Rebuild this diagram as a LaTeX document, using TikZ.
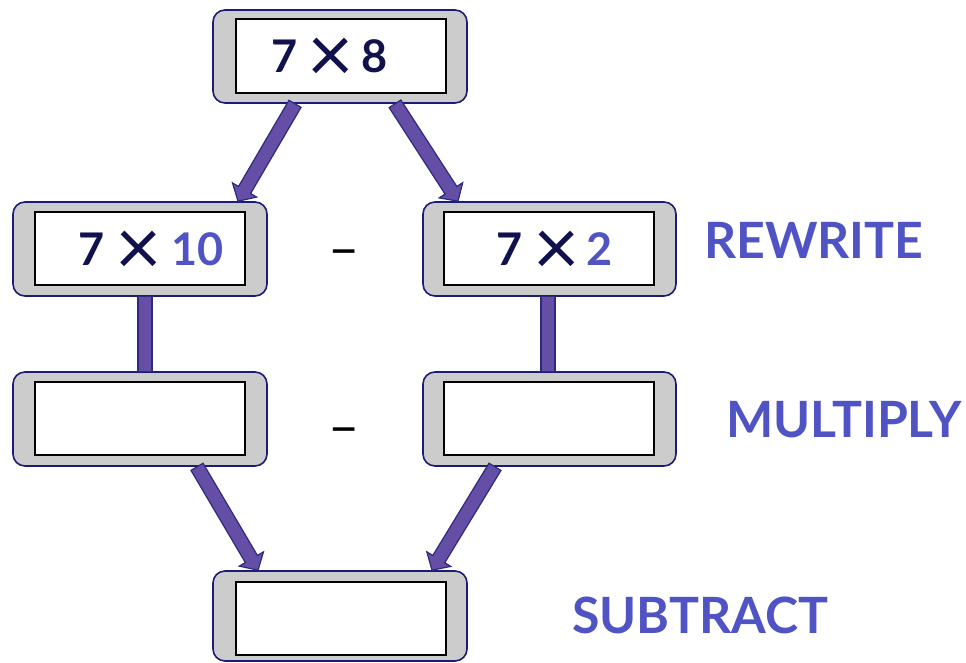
\documentclass[tikz,border=0pt]{standalone}
\usepackage{fontspec}
\setmainfont{Lato}
\usetikzlibrary{calc}
\definecolor{navy}{HTML}{1C1C78}
\definecolor{boxgray}{HTML}{CCCCCC}
\definecolor{arrfill}{HTML}{654EA6}
\definecolor{arredge}{HTML}{2E2A80}
\definecolor{txtnavy}{HTML}{11114D}
\definecolor{txtblue}{HTML}{5053C4}
\newcommand\mulx{\hspace{-3pt}\raisebox{-10pt}{\fontsize{80}{80}\selectfont\mdseries ×}}
\newcommand\fatarrow[2]{%
  \coordinate (hh) at ($(#2)!13pt!(#1)$);
  \draw[fatarr] ($(#1)!7pt!90:(#2)$) -- ($(hh)!7pt!90:(#2)$) -- ($(hh)!14pt!90:(#2)$) -- (#2)
    -- ($(hh)!14pt!-90:(#2)$) -- ($(hh)!7pt!-90:(#2)$) -- ($(#1)!7pt!-90:(#2)$) -- cycle;}
\newcommand\fatbar[2]{%
  \draw[fatarr] ($(#1)!7pt!90:(#2)$) -- ($(#2)!7pt!-90:(#1)$) -- ($(#2)!7pt!90:(#1)$) -- ($(#1)!7pt!-90:(#2)$) -- cycle;}
\tikzset{
  outerbox/.style={draw=navy, fill=boxgray, line width=1.6pt, rounded corners=12pt,
    minimum width=254pt, minimum height=94pt, inner sep=0pt},
  innerbox/.style={draw=black, fill=white, line width=1.8pt,
    minimum width=210pt, minimum height=73pt, inner sep=0pt},
  fatarr/.style={fill=arrfill, draw=arredge, line width=1.2pt, line join=miter},
  exprtext/.style={anchor=base west, inner sep=0pt, text=txtnavy, font=\fontsize{45}{45}\selectfont\bfseries},
  labeltext/.style={anchor=base west, inner sep=0pt, text=txtblue, font=\fontsize{50}{50}\selectfont\bfseries},
  minustext/.style={anchor=base, inner sep=0pt, text=black, font=\fontsize{54}{54}\selectfont}
}
\begin{document}
\begin{tikzpicture}[x=1pt,y=-1pt]
\useasboundingbox (0,0) rectangle (966,662);
% boxes
\node[outerbox, minimum height=93pt] (top) at (340,56.5) {};
\node[innerbox, minimum height=74pt] (topin) at (341,56) {};
\node[outerbox] (r2l) at (140,249) {};
\node[innerbox] (r2lin) at (140,248.5) {};
\node[outerbox, minimum width=253pt] (r2r) at (549.5,249) {};
\node[innerbox] (r2rin) at (549,248.5) {};
\node[outerbox] (r3l) at (140,419) {};
\node[innerbox] (r3lin) at (140,418.5) {};
\node[outerbox, minimum width=253pt] (r3r) at (549.5,419) {};
\node[innerbox] (r3rin) at (549,418.5) {};
\node[outerbox, minimum height=90pt] (bot) at (340,616) {};
\node[innerbox] (botin) at (341,618.5) {};
% connector ends
\coordinate (s1) at ($(top.south)+(-45,0)$);
\coordinate (e1) at ($(r2l.north)+(98,0)$);
\coordinate (s2) at ($(top.south)+(55,0)$);
\coordinate (e2) at ($(r2r.north)+(-91.5,0)$);
\coordinate (s3) at ($(r2l.south)+(5,0)$);
\coordinate (e3) at ($(r3l.north)+(5,0)$);
\coordinate (s4) at ($(r2r.south)+(-1.5,0)$);
\coordinate (e4) at ($(r3r.north)+(-1.5,0)$);
\coordinate (s5) at ($(r3l.south)+(57,0)$);
\coordinate (e5) at ($(bot.north)+(-82,0)$);
\coordinate (s6) at ($(r3r.south)+(-54.5,0)$);
\coordinate (e6) at ($(bot.north)+(92,0)$);
\fatarrow{s1}{e1}
\fatarrow{s2}{e2}
\fatbar{s3}{e3}
\fatbar{s4}{e4}
\fatarrow{s5}{e5}
\fatarrow{s6}{e6}
% texts
\node[exprtext] (x1) at (271,72) {\makebox[39pt][l]{7}\makebox[51pt][l]{\mulx}8};
\node[exprtext] (x2) at (78,265) {\makebox[40pt][l]{7}\makebox[53pt][l]{\mulx}{\color{txtblue}10}};
\node[exprtext] (x3) at (496,265) {\makebox[40pt][l]{7}\makebox[50pt][l]{\mulx}{\color{txtblue}2}};
\node[minustext] (m1) at (344.5,267) {–};
\node[minustext] (m2) at (344.5,445) {–};
\node[labeltext] (l1) at (704,258) {REWRITE};
\node[labeltext] (l2) at (726,437) {MULTIPLY};
\node[labeltext] (l3) at (572,633) {SUBTRACT};
\end{tikzpicture}
\end{document}
